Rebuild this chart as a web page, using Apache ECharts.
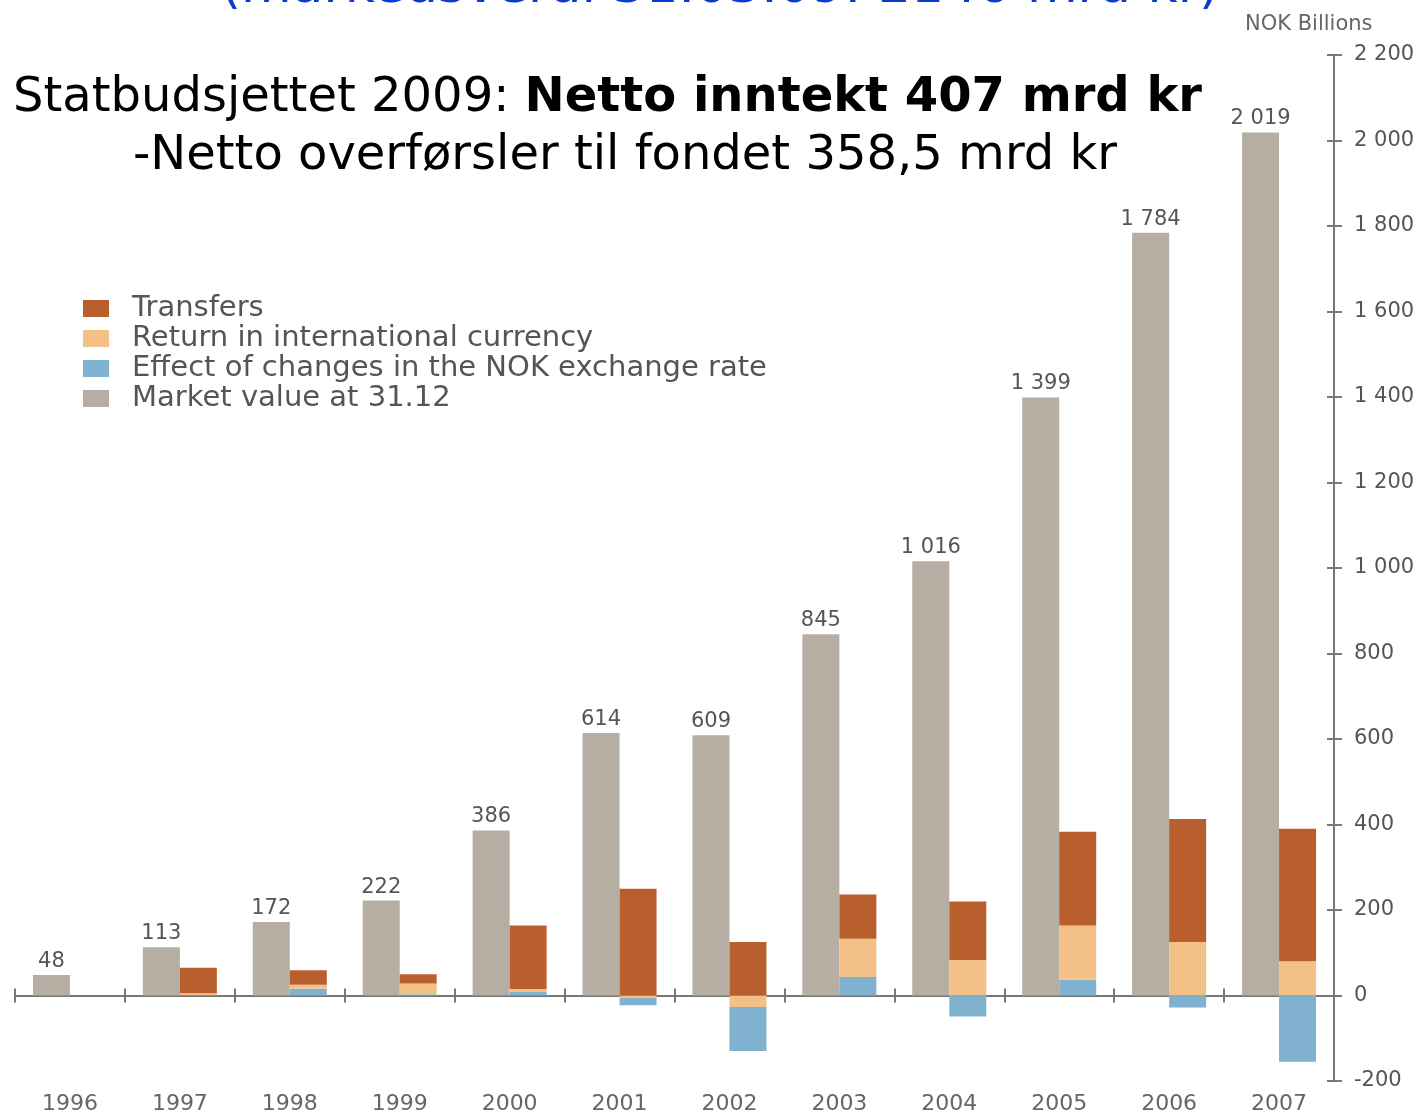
<!DOCTYPE html>
<html>
<head>
<meta charset="utf-8">
<script src="https://cdn.jsdelivr.net/npm/echarts@6/dist/echarts.min.js"></script>
<style>
html,body{margin:0;padding:0;background:#fff;}
#main{width:1422px;height:1113px;}
</style>
</head>
<body>
<div id="main"></div>
<script>
// data (NOK billions)
var years=['1996','1997','1998','1999','2000','2001','2002','2003','2004','2005','2006','2007'];
var marketValue=[48,113,172,222,386,614,609,845,1016,1399,1784,2019];
var transfers=[null,60,34,22,149,250,125,103,137,219,288,310];
var returnIntl=[null,4,9,25,7,-6,-27,90,83,127,125,80];
var fxEffect=[null,1,16,3,8,-17,-103,43,-49,37,-28,-155];
var yTicks={min:-200,max:2200,step:200};

// split the exchange-rate effect so positive parts sit at the bottom
// and negative parts hang below the negative return
var fxPos=fxEffect.map(function(v){return v!==null&&v>0?v:null;});
var fxNeg=fxEffect.map(function(v){return v!==null&&v<0?v:null;});

var C_TRANS='#b95e2d',C_RET='#f3c187',C_FX='#80b1cf',C_MV='#b6aea2';
var TXT='#555';
var AX='#777';
var FONT='DejaVu Sans';
var NAME_FX='Effect of changes in the NOK exchange rate';

function fmt(v){
	var s=String(Math.abs(v)).replace(/\B(?=(\d{3})+(?!\d))/g,' ');
	return (v<0?'-':'')+s;
}

var chart=echarts.init(document.getElementById('main'));
var option={
	animation:false,
	textStyle:{fontFamily:FONT},
	title:[{
		text:'Statbudsjettet 2009: {b|Netto inntekt 407 mrd kr}',
		left:8,top:70,
		textStyle:{fontFamily:FONT,fontSize:48,fontWeight:'normal',color:'#000',
			rich:{b:{fontFamily:FONT,fontSize:48,fontWeight:'bold',color:'#000'}}}
	},{
		text:'-Netto overførsler til fondet 358,5 mrd kr',
		left:128,top:128,
		textStyle:{fontFamily:FONT,fontSize:48,fontWeight:'normal',color:'#000'}
	},{
		text:'NOK Billions',
		left:1240,top:9,
		textStyle:{fontFamily:FONT,fontSize:21,fontWeight:'normal',color:'#666'}
	}],
	graphic:[{
		// heading cut off by the top edge
		type:'text',
		style:{text:'(markedsverdi 31.03.09: 2146 mrd kr)',x:720,y:14,
			align:'center',verticalAlign:'bottom',
			font:'52px "DejaVu Sans"',fill:'#0a3ad0'}
	}],
	legend:{
		orient:'vertical',left:78,top:289,
		itemWidth:26,itemHeight:17,itemGap:1,
		icon:'rect',
		data:['Transfers','Return in international currency',NAME_FX,'Market value at 31.12'],
		textStyle:{fontFamily:FONT,fontSize:29,color:TXT,padding:[0,0,0,18]}
	},
	grid:{left:15,right:88,top:55,bottom:32,containLabel:false,outerBoundsMode:'none'},
	xAxis:[{
		// year labels along the bottom of the plot
		type:'category',data:years,position:'bottom',
		axisLine:{show:false,onZero:false},
		axisTick:{show:false},
		axisLabel:{margin:12,fontFamily:FONT,fontSize:22,color:'#666'},
		splitLine:{show:false}
	},{
		// zero line with the group ticks (lower half)
		type:'category',data:years,position:'bottom',
		axisLine:{show:true,onZero:true,lineStyle:{color:AX,width:2}},
		axisTick:{show:true,inside:false,length:7,lineStyle:{color:AX,width:2}},
		axisLabel:{show:false},
		splitLine:{show:false}
	},{
		// upper half of the group ticks
		type:'category',data:years,position:'bottom',
		axisLine:{show:false,onZero:true},
		axisTick:{show:true,inside:true,length:7,lineStyle:{color:AX,width:2}},
		axisLabel:{show:false},
		splitLine:{show:false}
	}],
	yAxis:[{
		type:'value',position:'right',
		min:yTicks.min,max:yTicks.max,interval:yTicks.step,
		axisLine:{show:true,lineStyle:{color:AX,width:2}},
		axisTick:{show:true,inside:false,length:8,lineStyle:{color:AX,width:2}},
		axisLabel:{margin:20,fontFamily:FONT,fontSize:21,color:TXT,formatter:fmt},
		splitLine:{show:false}
	},{
		type:'value',position:'right',
		min:yTicks.min,max:yTicks.max,interval:yTicks.step,
		axisLine:{show:false},
		axisTick:{show:true,inside:true,length:7,lineStyle:{color:AX,width:2}},
		axisLabel:{show:false},
		splitLine:{show:false}
	}],
	series:[{
		name:'Market value at 31.12',type:'bar',
		data:marketValue,barWidth:37,barGap:'0%',
		itemStyle:{color:C_MV},
		label:{show:true,position:'top',distance:3,fontFamily:FONT,fontSize:21,color:TXT,
			formatter:function(p){return fmt(p.value);}}
	},{
		name:NAME_FX,type:'bar',stack:'chg',data:fxPos,barWidth:37,
		itemStyle:{color:C_FX}
	},{
		name:'Return in international currency',type:'bar',stack:'chg',data:returnIntl,barWidth:37,
		itemStyle:{color:C_RET}
	},{
		name:'Transfers',type:'bar',stack:'chg',data:transfers,barWidth:37,
		itemStyle:{color:C_TRANS}
	},{
		name:NAME_FX,type:'bar',stack:'chg',data:fxNeg,barWidth:37,
		itemStyle:{color:C_FX}
	}]
};
chart.setOption(option);
</script>
</body>
</html>
